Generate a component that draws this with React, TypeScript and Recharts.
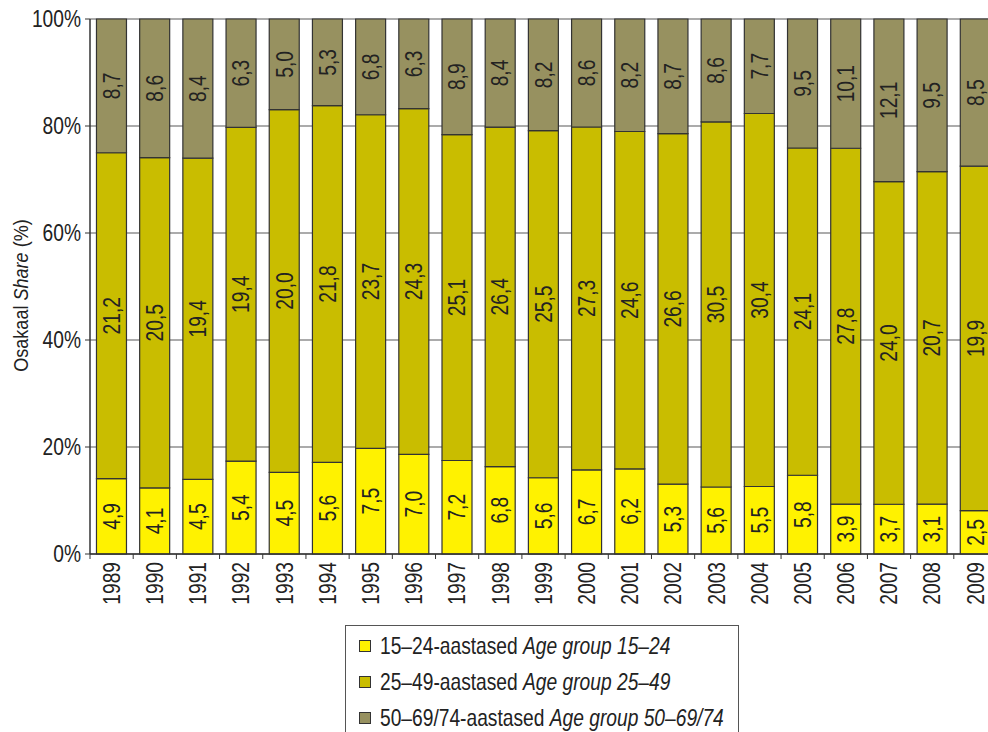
import React from "react"
import {
  BarChart,
  Bar,
  XAxis,
  YAxis,
  CartesianGrid,
  LabelList,
} from "recharts"

const years = [
  "1989", "1990", "1991", "1992", "1993", "1994", "1995", "1996", "1997", "1998", "1999",
  "2000", "2001", "2002", "2003", "2004", "2005", "2006", "2007", "2008", "2009",
]
const age15to24 = [4.9, 4.1, 4.5, 5.4, 4.5, 5.6, 7.5, 7.0, 7.2, 6.8, 5.6, 6.7, 6.2, 5.3, 5.6, 5.5, 5.8, 3.9, 3.7, 3.1, 2.5]
const age25to49 = [21.2, 20.5, 19.4, 19.4, 20.0, 21.8, 23.7, 24.3, 25.1, 26.4, 25.5, 27.3, 24.6, 26.6, 30.5, 30.4, 24.1, 27.8, 24.0, 20.7, 19.9]
const age50to74 = [8.7, 8.6, 8.4, 6.3, 5.0, 5.3, 6.8, 6.3, 8.9, 8.4, 8.2, 8.6, 8.2, 8.7, 8.6, 7.7, 9.5, 10.1, 12.1, 9.5, 8.5]
const yTicks = [0, 0.2, 0.4, 0.6, 0.8, 1]

const series = [
  { key: "a", et: "15–24-aastased", en: "Age group 15–24", color: "#fff200" },
  { key: "b", et: "25–49-aastased", en: "Age group 25–49", color: "#c9bd00" },
  { key: "c", et: "50–69/74-aastased", en: "Age group 50–69/74", color: "#979160" },
]

const data = years.map((year, i) => ({
  year,
  a: age15to24[i],
  b: age25to49[i],
  c: age50to74[i],
}))

// no narrow font installed, so squeeze Liberation Sans horizontally
const FONT = "'Liberation Sans', Arial, sans-serif"
const SQUEEZE = 0.8
const fmt = (v: number) => v.toFixed(1).replace(".", ",")

function NarrowText(props: any) {
  const { x, y, angle = 0, anchor = "middle", baseline = "central", size = 24, children } = props
  return (
    <text
      x={0}
      y={0}
      transform={`translate(${x}, ${y}) rotate(${angle}) scale(${SQUEEZE}, 1)`}
      textAnchor={anchor}
      dominantBaseline={baseline}
      fontSize={size}
      fontFamily={FONT}
      fill="#222"
    >
      {children}
    </text>
  )
}

function YearTick(props: any) {
  const { x, y, payload, index } = props
  const half = payload.offset || 21.5
  return (
    <g>
      {index === 0 && <line x1={x - half} y1={y} x2={x - half} y2={y + 5} stroke="#333" />}
      <line x1={x + half} y1={y} x2={x + half} y2={y + 5} stroke="#333" />
      <NarrowText x={x} y={y + 8} angle={-90} anchor="end">
        {payload.value}
      </NarrowText>
    </g>
  )
}

function PercentTick(props: any) {
  const { x, y, payload } = props
  return (
    <NarrowText x={x} y={y} anchor="end">
      {`${Math.round(payload.value * 100)}%`}
    </NarrowText>
  )
}

function ValueLabel(props: any) {
  const { x, y, width, height, value } = props
  return (
    <NarrowText x={x + width / 2} y={y + height / 2} angle={-90}>
      {fmt(Number(value))}
    </NarrowText>
  )
}

function YLabel(props: any) {
  const { viewBox } = props
  const x = 20
  const y = viewBox.y + viewBox.height / 2 + 9
  return (
    <text
      x={0}
      y={0}
      transform={`translate(${x}, ${y}) rotate(-90) scale(0.86, 1)`}
      textAnchor="middle"
      dominantBaseline="central"
      fontSize={21}
      fontFamily={FONT}
      fill="#222"
    >
      Osakaal <tspan fontStyle="italic">Share</tspan> (%)
    </text>
  )
}

export default function App() {
  return (
    <div style={{ position: "fixed", left: 0, top: 0, width: 988, height: 732, overflow: "hidden", background: "#fff" }}>
      <BarChart
        width={1008}
        height={748}
        data={data}
        stackOffset="expand"
        barCategoryGap="15%"
        margin={{ top: 19, right: 11, bottom: 134, left: 0 }}
      >
        <CartesianGrid vertical={false} stroke="#8f8f8f" strokeWidth={1.5} />
        <XAxis
          dataKey="year"
          tick={<YearTick />}
          tickLine={false}
          tickSize={0}
          tickMargin={0}
          height={60}
          interval={0}
          axisLine={{ stroke: "#333", strokeWidth: 1.5 }}
        />
        <YAxis
          width={90}
          domain={[0, 1]}
          ticks={yTicks}
          tick={<PercentTick />}
          tickSize={5}
          tickMargin={4}
          tickLine={{ stroke: "#333" }}
          axisLine={{ stroke: "#333", strokeWidth: 1.5 }}
          label={{ content: <YLabel /> }}
        />
        {series.map((s) => (
          <Bar
            key={s.key}
            dataKey={s.key}
            stackId="s"
            fill={s.color}
            stroke="#333"
            strokeWidth={1.2}
            isAnimationActive={false}
          >
            <LabelList dataKey={s.key} content={<ValueLabel />} />
          </Bar>
        ))}
      </BarChart>
      <div
        style={{
          position: "absolute",
          left: 345,
          top: 625,
          width: 394,
          height: 130,
          border: "1.5px solid #555",
          boxSizing: "border-box",
          paddingTop: 2,
          paddingLeft: 13,
          fontFamily: FONT,
          fontSize: 24,
          color: "#222",
        }}
      >
        {series.map((s) => (
          <div key={s.key} style={{ display: "flex", alignItems: "center", height: 36, whiteSpace: "nowrap" }}>
            <span
              style={{
                display: "inline-block",
                flex: "none",
                width: 10,
                height: 10,
                background: s.color,
                border: "1px solid #333",
                marginRight: 9,
              }}
            />
            <span style={{ display: "inline-block", transform: `scaleX(${SQUEEZE})`, transformOrigin: "left center" }}>
              {s.et} <i>{s.en}</i>
            </span>
          </div>
        ))}
      </div>
    </div>
  )
}
